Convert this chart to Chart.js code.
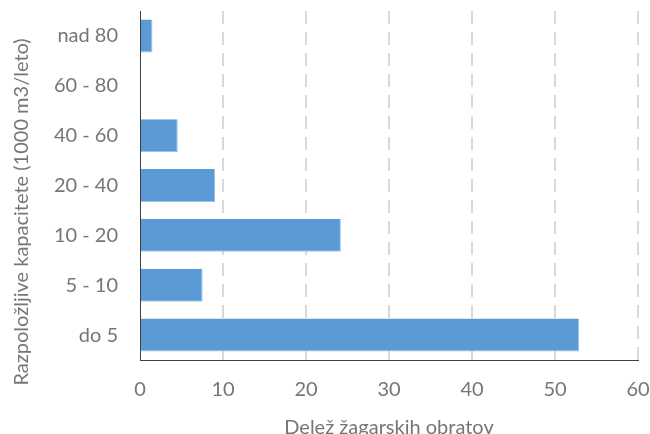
<!DOCTYPE html>
<html>
<head>
<meta charset="utf-8">
<script src="https://cdn.jsdelivr.net/npm/chart.js@4"></script>
<style>
  html, body { margin: 0; padding: 0; background: #fff; }
  #wrap { width: 650px; height: 434px; }
</style>
</head>
<body>
<div id="wrap"><canvas id="barChart"></canvas></div>
<script>
// podatki
const categories = ['nad 80', '60 - 80', '40 - 60', '20 - 40', '10 - 20', '5 - 10', 'do 5'];
const shares     = [1.5, 0, 4.55, 9.05, 24.2, 7.55, 52.9];
const xTicks     = [0, 10, 20, 30, 40, 50, 60];
const xTitle     = 'Delež žagarskih obratov';
const yTitle     = 'Razpoložljive kapacitete (1000 m3/leto)';

const blue  = '#5B9BD5';
const grey  = '#767676';
const axis  = '#404040';
const font  = 'Lato';

// brez samodejnega odmika zaradi oznak
const noPad = s => { s.paddingTop = 0; s.paddingBottom = 0; s.paddingLeft = 0; s.paddingRight = 0; };

// naslov y osi – rahlo zamaknjen navzdol kot v Excelu
const yTitlePlugin = {
    id: 'yTitle',
    afterDraw(chart) {
        const ctx = chart.ctx;
        ctx.save();
        ctx.translate(22, 212);
        ctx.rotate(-Math.PI / 2);
        ctx.font = '20px ' + font;
        ctx.fillStyle = grey;
        ctx.textAlign = 'center';
        ctx.textBaseline = 'middle';
        ctx.fillText(yTitle, 0, 0);
        ctx.restore();
    }
};

new Chart(document.getElementById('barChart'), {
    type: 'bar',
    data: {
        labels: categories,
        datasets: [{
            data: shares,
            backgroundColor: blue,
            borderColor: '#9dc3e6',
            borderWidth: { right: 1, bottom: 1 },
            categoryPercentage: 1,
            barPercentage: 0.66
        }]
    },
    options: {
        indexAxis: 'y',
        responsive: true,
        maintainAspectRatio: false,
        animation: false,
        layout: { padding: { top: 11, right: 12, bottom: 0, left: 0 } },
        plugins: { legend: { display: false }, tooltip: { enabled: false } },
        scales: {
            x: {
                min: 0,
                max: 60,
                afterBuildTicks: s => { s.ticks = xTicks.map(v => ({ value: v })); },
                afterFit: s => { s.height = 74; noPad(s); },
                grid: {
                    color: c => c.tick && c.tick.value === 0 ? 'rgba(0,0,0,0)' : '#d9d9d9',
                    lineWidth: 2,
                    drawTicks: false
                },
                border: { display: true, color: axis, width: 1, dash: [13, 8] },
                ticks: { padding: 18, color: grey, font: { family: font, size: 20 } },
                title: {
                    display: true,
                    text: xTitle,
                    color: grey,
                    font: { family: font, size: 20, lineHeight: 0.6 },
                    padding: 0
                }
            },
            y: {
                afterFit: s => { s.width = 140; noPad(s); },
                grid: { display: false, drawTicks: false },
                border: { display: true, color: axis, width: 1 },
                ticks: { padding: 22, color: grey, font: { family: font, size: 20 } }
            }
        }
    },
    plugins: [yTitlePlugin]
});
</script>
</body>
</html>
